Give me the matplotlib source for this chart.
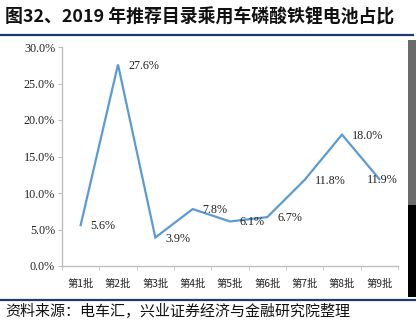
import numpy as np
import matplotlib
matplotlib.use("Agg")
from matplotlib import pyplot as plt
from matplotlib.patches import Rectangle
from matplotlib.lines import Line2D
from matplotlib.ticker import FixedLocator, FuncFormatter

# data
batches = ["第1批", "第2批", "第3批", "第4批", "第5批", "第6批", "第7批", "第8批", "第9批"]
share = [5.6, 27.6, 3.9, 7.8, 6.1, 6.7, 11.8, 18.0, 11.9]
y_ticks = [0, 5, 10, 15, 20, 25, 30]

title = "图32、2019 年推荐目录乘用车磷酸铁锂电池占比"
source = "资料来源：电车汇，兴业证券经济与金融研究院整理"

serif = ["Liberation Serif", "Noto Sans CJK SC", "DejaVu Sans"]
cjk = ["Noto Sans CJK SC", "DejaVu Sans"]

W, H = 416, 327
fig = plt.figure(figsize=(W / 100, H / 100), dpi=100)

# axes placed in pixel terms
left, right, top, bottom = 62, 398, 47, 266
ax = fig.add_axes([left / W, 1 - bottom / H, (right - left) / W, (bottom - top) / H])

x = np.arange(len(batches))
ax.plot(x, share, color="#5B9BD5", lw=1.6, solid_joinstyle="miter")

# value labels, offset in pixels from each point
for i, v in enumerate(share):
    dx = -12 if i == len(share) - 1 else 10
    ax.annotate(f"{v:.1f}%", (i, v), xytext=(dx, -1), textcoords="offset pixels",
                ha="left", va="center", fontsize=8.7, family=serif, color="#222222")

ax.set_xlim(-0.5, len(batches) - 0.5)
ax.set_ylim(0, 30)
ax.set_yticks(y_ticks)
ax.yaxis.set_major_formatter(FuncFormatter(lambda v, p: f"{v:.1f}%"))
ax.set_xticks(x)
ax.set_xticklabels(batches)
ax.xaxis.set_minor_locator(FixedLocator(np.arange(-0.5, len(batches), 1.0)))
ax.tick_params(axis="x", which="major", length=0, pad=9, labelsize=7.4)
ax.tick_params(axis="x", which="minor", length=3, color="#BFBFBF", direction="out")
ax.tick_params(axis="y", length=3, color="#BFBFBF", direction="out", labelsize=8.7, pad=2)
for lab in ax.get_xticklabels():
    lab.set_family(cjk)
    lab.set_color("#222222")
for lab in ax.get_yticklabels():
    lab.set_family(serif)
    lab.set_color("#222222")

for s in ["top", "right"]:
    ax.spines[s].set_visible(False)
for s in ["left", "bottom"]:
    ax.spines[s].set_color("#BFBFBF")
    ax.spines[s].set_linewidth(1.0)

# title, rules and source note
fig.text(5 / W, 1 - 17 / H, title, fontsize=12.9, fontweight="bold", family=cjk,
         ha="left", va="center", color="#111111")
fig.add_artist(Line2D([0, 413 / W], [1 - 35 / H] * 2, color="#1F3A6E", lw=1.6))
fig.add_artist(Line2D([0, 1], [1 - 300 / H] * 2, color="#1F3A6E", lw=1.6))
fig.text(5 / W, 1 - 312 / H, source, fontsize=10.8, family=cjk,
         ha="left", va="center", color="#111111")

# bits of the neighbouring page at the right edge
fig.add_artist(Rectangle((408 / W, 1 - 205 / H), 8 / W, 165 / H, transform=fig.transFigure,
                         color="#6B6B6B", lw=0))
fig.add_artist(Rectangle((408 / W, 1 - 297 / H), 8 / W, 92 / H, transform=fig.transFigure,
                         color="#000000", lw=0))

fig.savefig("out.png", dpi=100)
